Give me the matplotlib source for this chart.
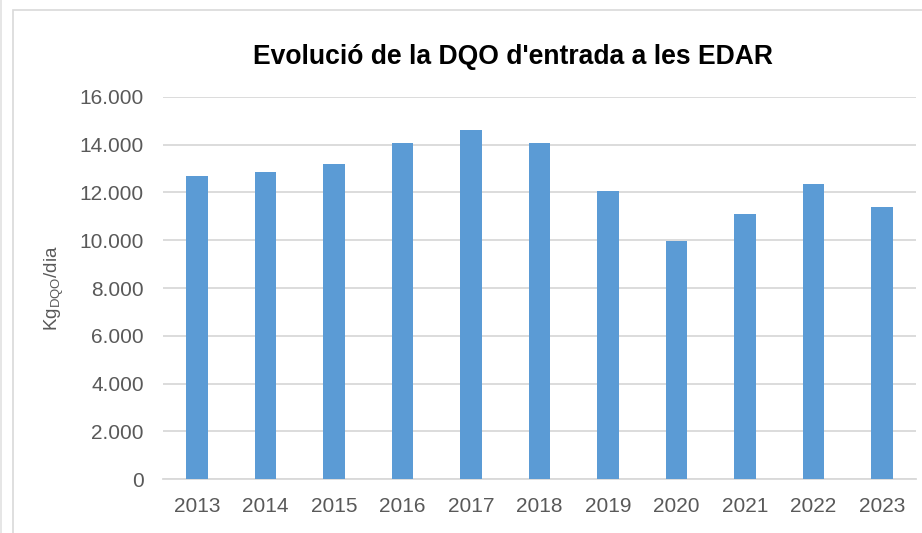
import matplotlib
matplotlib.use("Agg")
import matplotlib.pyplot as plt
from matplotlib.patches import Rectangle
from matplotlib.ticker import FuncFormatter, MultipleLocator

years = ["2013", "2014", "2015", "2016", "2017", "2018", "2019", "2020", "2021", "2022", "2023"]
dqo_kg_dia = [12690, 12860, 13200, 14060, 14610, 14070, 12050, 9970, 11100, 12360, 11380]

TITLE = "Evolució de la DQO d'entrada a les EDAR"
YLABEL = r"Kg$_{\mathregular{DQO}}$/dia"

BAR_COLOR = "#5B9BD5"
TEXT_COLOR = "#595959"
GRID_COLOR = "#D9D9D9"

plt.rcParams["font.family"] = ["Liberation Sans", "DejaVu Sans"]
plt.rcParams["mathtext.fontset"] = "custom"
plt.rcParams["mathtext.rm"] = "Liberation Sans"


def thousands(value, _pos):
    return f"{int(value):,}".replace(",", ".")


fig = plt.figure(figsize=(9.22, 5.33), dpi=100)
ax = fig.add_axes([163 / 922, 1 - 479.3 / 533, (916 - 163) / 922, (479.3 - 96.7) / 533])

# chart frame like the spreadsheet export
fig.patches.append(Rectangle((13 / 922, -0.05), 1.0, 1 - 10 / 533 + 0.05, transform=fig.transFigure,
                             fill=False, edgecolor="#D9D9D9", linewidth=1.2))
fig.patches.append(Rectangle((0, 0), 2 / 922, 1, transform=fig.transFigure,
                             facecolor="#E6E6E6", edgecolor="none"))

x = range(len(years))
ax.bar(x, dqo_kg_dia, width=0.316, color=BAR_COLOR, zorder=3)

ax.set_xlim(-0.5, len(years) - 0.5)
ax.set_ylim(0, 16000)
ax.yaxis.set_major_locator(MultipleLocator(2000))
ax.yaxis.set_major_formatter(FuncFormatter(thousands))
ax.set_xticks(list(x))
ax.set_xticklabels(years)

ax.grid(axis="y", color=GRID_COLOR, linewidth=1.3, zorder=0)
for side in ["top", "right", "left"]:
    ax.spines[side].set_visible(False)
ax.spines["bottom"].set_color(GRID_COLOR)
ax.spines["bottom"].set_linewidth(1.3)
ax.tick_params(axis="both", length=0, labelsize=15, labelcolor=TEXT_COLOR)
ax.tick_params(axis="y", pad=13.7)
ax.tick_params(axis="x", pad=13)

ax.set_ylabel(YLABEL, fontsize=13.5, color=TEXT_COLOR, labelpad=9.5)
fig.text(513 / 922, 1 - 57 / 533, TITLE, ha="center", va="center",
         fontsize=19.1, fontweight="bold", color="black")

fig.savefig("out.png", dpi=100)
plt.close(fig)
